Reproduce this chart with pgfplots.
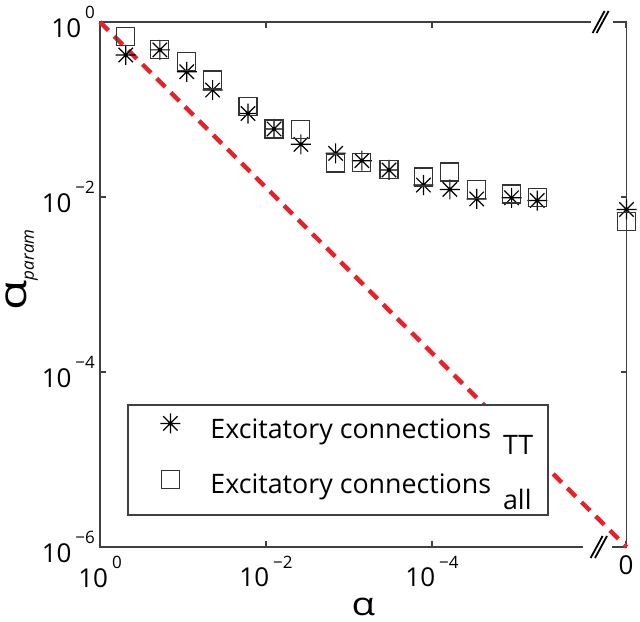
\documentclass[border=0pt]{standalone}
\usepackage{fontspec}
\setmainfont{Open Sans}
\usepackage{pgfplots}
\pgfplotsset{compat=1.18}
\definecolor{dashred}{RGB}{232,32,40}
\pgfdeclareplotmark{mstar}{%
  \pgfpathmoveto{\pgfqpoint{-\pgfplotmarksize}{0pt}}\pgfpathlineto{\pgfqpoint{\pgfplotmarksize}{0pt}}%
  \pgfpathmoveto{\pgfqpoint{0pt}{-\pgfplotmarksize}}\pgfpathlineto{\pgfqpoint{0pt}{\pgfplotmarksize}}%
  \pgfpathmoveto{\pgfqpoint{-0.72\pgfplotmarksize}{-0.72\pgfplotmarksize}}\pgfpathlineto{\pgfqpoint{0.72\pgfplotmarksize}{0.72\pgfplotmarksize}}%
  \pgfpathmoveto{\pgfqpoint{-0.72\pgfplotmarksize}{0.72\pgfplotmarksize}}\pgfpathlineto{\pgfqpoint{0.72\pgfplotmarksize}{-0.72\pgfplotmarksize}}%
  \pgfusepathqstroke
  \pgfpathcircle{\pgfpointorigin}{0.9pt}\pgfusepathqfill}
\newcommand{\tl}[1]{\mbox{\fontsize{13}{13}\selectfont 10\hspace{2pt}\raisebox{9.3pt}{\fontsize{8.5}{8.5}\selectfont #1}}}
\newcommand{\tz}{\mbox{\fontsize{13}{13}\selectfont 0}}
\begin{document}
\begin{tikzpicture}
\begin{axis}[
  scale only axis, width=263.25pt, height=262.5pt,
  xmode=log, ymode=log, x dir=reverse,
  xmin=4.54e-7, xmax=1, ymin=1e-6, ymax=1,
  xtick={1,1e-2,1e-4,4.6e-7}, xticklabels={\tl{0},\tl{−2},\tl{−4},\tz},
  ytick={1,1e-2,1e-4,1e-6}, yticklabels={\tl{0},\tl{−2},\tl{−4},\tl{−6}},
  minor xtick={}, minor ytick={},
  tick align=inside, major tick length=3pt,
  axis line style={black!75, line width=0.7pt},
  every tick/.style={black!75, line width=0.6pt},
  xticklabel style={yshift=-1pt},
  yticklabel style={xshift=1pt},
  xlabel={\scalebox{1.2}[1]{α}},
  ylabel={\scalebox{1.3}[1]{α}\raisebox{-0.35ex}{\fontsize{8.5}{8.5}\selectfont\itshape param}},
  x label style={at={(axis description cs:0.5,-0.115)}, anchor=center, inner sep=0pt, font=\fontsize{16}{16}\selectfont},
  y label style={at={(axis description cs:-0.148,0.528)}, anchor=center, inner sep=0pt, font=\fontsize{19}{19}\selectfont},
  clip=false,
  legend style={at={(axis description cs:0.0532,0.2705)}, anchor=north west,
    draw=none, fill=none, font=\fontsize{13.4}{15}\selectfont,
    inner xsep=0pt, inner ysep=4pt, row sep=14.5pt, nodes={inner sep=0pt}, cells={anchor=west}},
  legend image code/.code={\path[draw=none,fill=none] (0pt,0pt) (41pt,0.6em); \draw[#1] plot coordinates {(21pt,0.32em)};},
]
\addplot[dashred, line width=2.2pt, dash pattern=on 6pt off 4pt, forget plot] coordinates {(1,1) (4.54e-7,1e-6)};
\addplot[only marks, mark=mstar, mark size=5pt, black, line width=0.6pt] coordinates {
(0.49,0.42) (0.19,0.48) (0.09,0.27) (0.044,0.167) (0.0165,0.090) (0.008,0.060)
(0.0038,0.040) (0.00145,0.0316) (0.0007,0.026) (0.00033,0.0204) (0.000127,0.0137)
(0.000061,0.0122) (0.000029,0.0095) (0.000011,0.0098) (0.0000054,0.0091) (4.54e-7,0.0072)};
\addlegendentry{Excitatory connections\hspace{6pt}\raisebox{-8pt}{TT}}
\addplot[only marks, mark=square, mark size=4.5pt, black!80, line width=0.6pt] coordinates {
(0.49,0.69) (0.19,0.49) (0.09,0.35) (0.044,0.217) (0.0165,0.108) (0.008,0.060)
(0.0038,0.059) (0.00145,0.0245) (0.0007,0.025) (0.00033,0.0206) (0.000127,0.0169)
(0.000061,0.0193) (0.000029,0.0122) (0.000011,0.0108) (0.0000054,0.0098) (4.54e-7,0.0052)};
\addlegendentry{Excitatory connections\hspace{6pt}\raisebox{-8pt}{all}}
\filldraw[fill=white, draw=black!75, line width=0.6pt] (axis description cs:0.0532,0.061) rectangle (axis description cs:0.851,0.2705);
\end{axis}
\fill[white] (245.3pt,259pt) rectangle (256.5pt,266pt);
\fill[white] (241.5pt,-3.5pt) rectangle (255.8pt,3.5pt);
\draw[black, line width=0.9pt] (246.3pt,257pt) -- (252.3pt,268pt);
\draw[black, line width=0.9pt] (248.3pt,257pt) -- (254.3pt,268pt);
\draw[black, line width=0.9pt] (245.3pt,-5.5pt) -- (251.3pt,5.5pt);
\draw[black, line width=0.9pt] (247.5pt,-5.5pt) -- (253.5pt,5.5pt);
\pgfresetboundingbox
\path (-50pt,-37pt) rectangle (270pt,273.5pt);
\end{tikzpicture}
\end{document}
